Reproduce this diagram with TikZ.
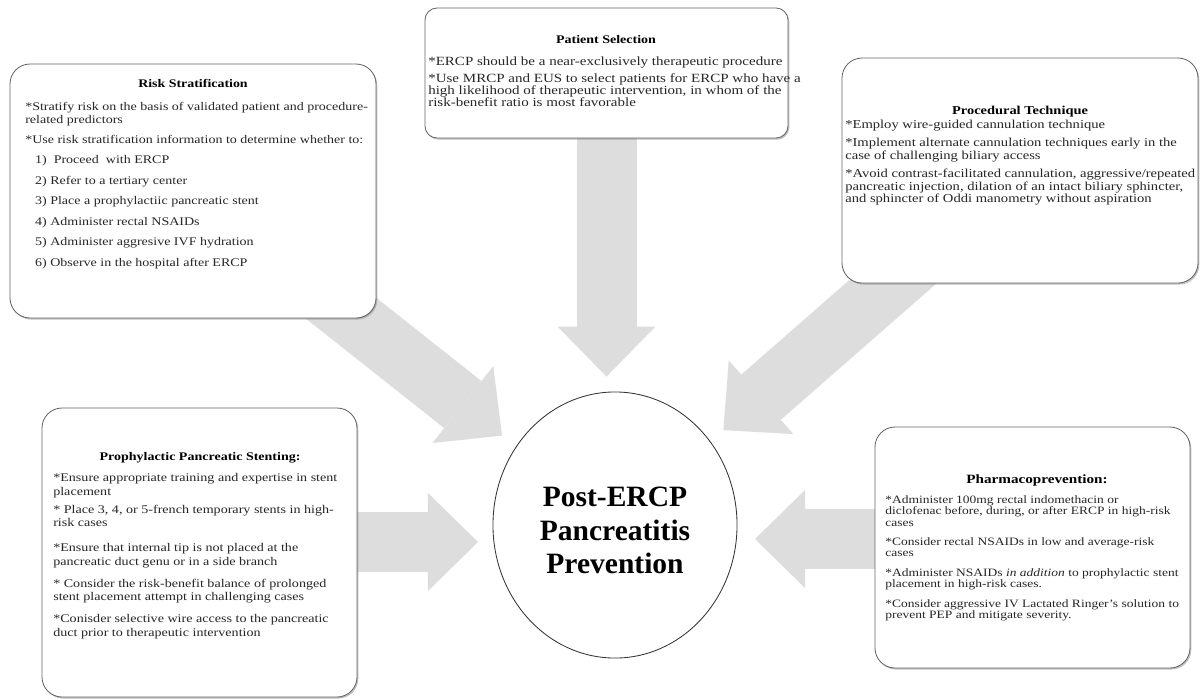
\documentclass[tikz,border=0pt]{standalone}
\usepackage{fontspec}
\setmainfont{Liberation Serif}[FakeStretch=1.2]
\newfontfamily\centrefont{Liberation Serif}
\usetikzlibrary{arrows.meta,shapes.geometric,fit,shadows,backgrounds}

\tikzset{
  infobox/.style={draw=gray!80!black, line width=0.6pt, rounded corners=0.5cm, fill=white, inner sep=0pt,
    drop shadow={shadow xshift=0.9pt, shadow yshift=-1.1pt, opacity=0.5}},
  boxtitle/.style={anchor=base, inner sep=0pt},
  boxtext/.style={anchor=north west, inner sep=0pt, align=left, text=black!85},
  bigarrow/.style={draw=gray!27, line width=1.5cm, -{Triangle[length=1.25cm, width=2.45cm, line width=0pt]}},
}

\begin{document}
\begin{tikzpicture}[x=0.025cm, y=-0.025cm]
	\useasboundingbox (0,0) rectangle (1200,699);

	\node[infobox, fit={(10,64) (376,318)}] (riskbox) {};
	\node[infobox, rounded corners=0.3cm, fit={(425,8) (788,138)}] (selbox) {};
	\node[infobox, fit={(842,58) (1198,283)}] (techbox) {};
	\node[infobox, fit={(42,408) (357,697)}] (stentbox) {};
	\node[infobox, fit={(875,427) (1190,668)}] (pharmbox) {};
	\node[draw=gray!40!black, line width=0.6pt, fill=white, ellipse, minimum width=6.1cm, minimum height=6.65cm,
		inner sep=0pt, align=center, font=\centrefont\bfseries\fontsize{21}{24}\selectfont] (centre) at (615,525)
		{\rule{0pt}{21.6pt}Post-ERCP\\Pancreatitis\\Prevention};

	\node[boxtitle, font=\fontsize{8.25}{10}\selectfont\bfseries] (risktitle) at (193,87) {Risk Stratification};
	\node[boxtext, font=\fontsize{8.3}{9.2}\selectfont] (risktext) at (25,102.4)
		{*Stratify risk on the basis of validated patient and procedure-\\
		related predictors\\[5pt]
		*Use risk stratification information to determine whether to:\\[5pt]
		\hspace*{7pt}1)\ \ Proceed\ \ with ERCP\\[5.4pt]
		\hspace*{7pt}2) Refer to a tertiary center\\[5.4pt]
		\hspace*{7pt}3) Place a prophylactiic pancreatic stent\\[5.4pt]
		\hspace*{7pt}4) Administer rectal NSAIDs\\[5.4pt]
		\hspace*{7pt}5) Administer aggresive IVF hydration\\[5.4pt]
		\hspace*{7pt}6) Observe in the hospital after ERCP};

	\node[boxtitle, font=\fontsize{8.3}{10}\selectfont\bfseries] (seltitle) at (606,43.5) {Patient Selection};
	\node[boxtext, font=\fontsize{8.9}{8.3}\selectfont] (seltext) at (428,56.8)
		{*ERCP should be a near-exclusively therapeutic procedure\\[3.8pt]
		*Use MRCP and EUS to select patients for ERCP who have a\\
		high likelihood of therapeutic intervention, in whom of the\\
		risk-benefit ratio is most favorable};

	\node[boxtitle, font=\fontsize{8.55}{10}\selectfont\bfseries] (techtitle) at (1020,114.5) {Procedural Technique};
	\node[boxtext, font=\fontsize{8.65}{8.9}\selectfont] (techtext) at (845,119.5)
		{*Employ wire-guided cannulation technique\\[4.3pt]
		*Implement alternate cannulation techniques early in the\\
		case of challenging biliary access\\[4.3pt]
		*Avoid contrast-facilitated cannulation, aggressive/repeated\\
		pancreatic injection, dilation of an intact biliary sphincter,\\
		and sphincter of Oddi manometry without aspiration};

	\node[boxtitle, font=\fontsize{8.3}{10}\selectfont\bfseries] (stenttitle) at (200,460.5) {Prophylactic Pancreatic Stenting:};
	\node[boxtext, font=\fontsize{8.35}{9.6}\selectfont] (stenttext) at (53,473.4)
		{*Ensure appropriate training and expertise in stent\\
		placement\\[3.2pt]
		* Place 3, 4, or 5-french temporary stents in high-\\
		risk cases\\[8.2pt]
		*Ensure that internal tip is not placed at the\\
		pancreatic duct genu or in a side branch\\[6pt]
		* Consider the risk-benefit balance of prolonged\\
		stent placement attempt in challenging cases\\[6pt]
		*Conisder selective wire access to the pancreatic\\
		duct prior to therapeutic intervention};

	\node[boxtitle, font=\fontsize{9}{10}\selectfont\bfseries] (pharmtitle) at (1037,483.5) {Pharmacoprevention:};
	\node[boxtext, font=\fontsize{8}{8.15}\selectfont] (pharmtext) at (885,495)
		{*Administer 100mg rectal indomethacin or\\
		diclofenac before, during, or after ERCP in high-risk\\
		cases\\[5.7pt]
		*Consider rectal NSAIDs in low and average-risk\\
		cases\\[5.7pt]
		*Administer NSAIDs \textit{in addition} to prophylactic stent\\
		placement in high-risk cases.\\[5.7pt]
		*Consider aggressive IV Lactated Ringer's solution to\\
		prevent PEP and mitigate severity.};

	\coordinate (ltip) at (478,542);
	\coordinate (rtip) at (755,539);

	\begin{pgfonlayer}{background}
		\fill[white] (0,0) rectangle (1200,699);
		\draw[bigarrow, shorten >=0.375cm] (selbox.center) -- (selbox.center |- centre.north);
		\draw[bigarrow, shorten >=3.6cm] (riskbox.center) -- (centre.center);
		\draw[bigarrow, shorten >=3.6cm] (techbox.center) -- (centre.center);
		\draw[bigarrow] (stentbox.center |- ltip) -- (ltip);
		\draw[bigarrow] (pharmbox.center |- rtip) -- (rtip);
	\end{pgfonlayer}
\end{tikzpicture}
\end{document}
